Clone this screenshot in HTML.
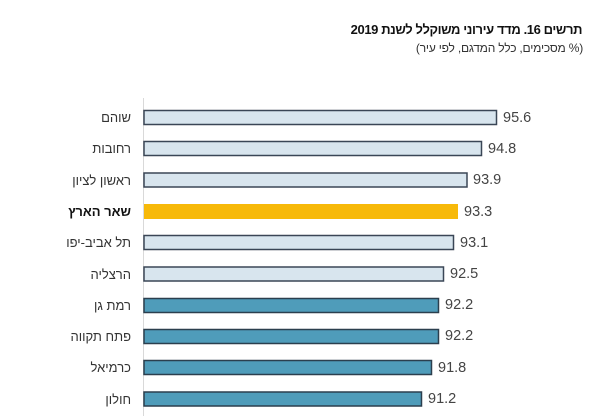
<!DOCTYPE html>
<html>
<head>
<meta charset="utf-8">
<style>
  html,body{margin:0;padding:0;background:#fff;}
  body{width:615px;height:416px;position:relative;overflow:hidden;font-family:"Liberation Sans","Noto Sans CJK JP",sans-serif;}
  .t{position:absolute;white-space:nowrap;direction:rtl;}
  .title{right:33px;top:21px;font-size:13px;font-weight:bold;color:#111;line-height:18px;letter-spacing:-0.4px;}
  .sub{right:32px;top:40px;font-size:12px;color:#333;line-height:17px;letter-spacing:-0.2px;}
  .lab{right:484px;font-size:13px;color:#333;line-height:16px;text-align:right;}
  .val{position:absolute;font-size:14.5px;color:#444;line-height:16px;white-space:nowrap;}
  svg{position:absolute;left:0;top:0;}
</style>
</head>
<body>
<svg width="615" height="416" viewBox="0 0 615 416">
  <line x1="143.5" y1="98" x2="143.5" y2="416" stroke="#d9d9d9" stroke-width="1"/>
  <rect x="144" y="110.5" width="352.5" height="14" fill="#d8e5ee" stroke="#3a4656" stroke-width="1.5"/>
  <rect x="144" y="141.5" width="337.5" height="14" fill="#d8e5ee" stroke="#3a4656" stroke-width="1.5"/>
  <rect x="144" y="173" width="323" height="14" fill="#d8e5ee" stroke="#3a4656" stroke-width="1.5"/>
  <rect x="144" y="204" width="314" height="15" fill="#f7b909"/>
  <rect x="144" y="235.5" width="309.5" height="14" fill="#d8e5ee" stroke="#3a4656" stroke-width="1.5"/>
  <rect x="144" y="267" width="299.5" height="14" fill="#d8e5ee" stroke="#3a4656" stroke-width="1.5"/>
  <rect x="144" y="298.5" width="294.5" height="14" fill="#4f9cba" stroke="#2b3f4e" stroke-width="1.5"/>
  <rect x="144" y="329.5" width="294.5" height="14" fill="#4f9cba" stroke="#2b3f4e" stroke-width="1.5"/>
  <rect x="144" y="360.5" width="287.5" height="14" fill="#4f9cba" stroke="#2b3f4e" stroke-width="1.5"/>
  <rect x="144" y="392" width="277.5" height="14" fill="#4f9cba" stroke="#2b3f4e" stroke-width="1.5"/>
</svg>

<div class="t title">תרשים 16. מדד עירוני משוקלל לשנת 2019</div>
<div class="t sub">(% מסכימים, כלל המדגם, לפי עיר)</div>

<div class="t lab" style="top:110px;">שוהם</div>
<div class="t lab" style="top:141px;">רחובות</div>
<div class="t lab" style="top:173px;">ראשון לציון</div>
<div class="t lab" style="top:204px;font-weight:bold;color:#111;">שאר הארץ</div>
<div class="t lab" style="top:235px;">תל אביב-יפו</div>
<div class="t lab" style="top:267px;">הרצליה</div>
<div class="t lab" style="top:298px;">רמת גן</div>
<div class="t lab" style="top:329px;">פתח תקווה</div>
<div class="t lab" style="top:360px;">כרמיאל</div>
<div class="t lab" style="top:392px;">חולון</div>

<div class="val" style="left:503px;top:110px;">95.6</div>
<div class="val" style="left:488px;top:141px;">94.8</div>
<div class="val" style="left:473px;top:172px;">93.9</div>
<div class="val" style="left:464px;top:204px;">93.3</div>
<div class="val" style="left:460px;top:235px;">93.1</div>
<div class="val" style="left:450px;top:266px;">92.5</div>
<div class="val" style="left:445px;top:297px;">92.2</div>
<div class="val" style="left:445px;top:328px;">92.2</div>
<div class="val" style="left:438px;top:360px;">91.8</div>
<div class="val" style="left:428px;top:391px;">91.2</div>
</body>
</html>
